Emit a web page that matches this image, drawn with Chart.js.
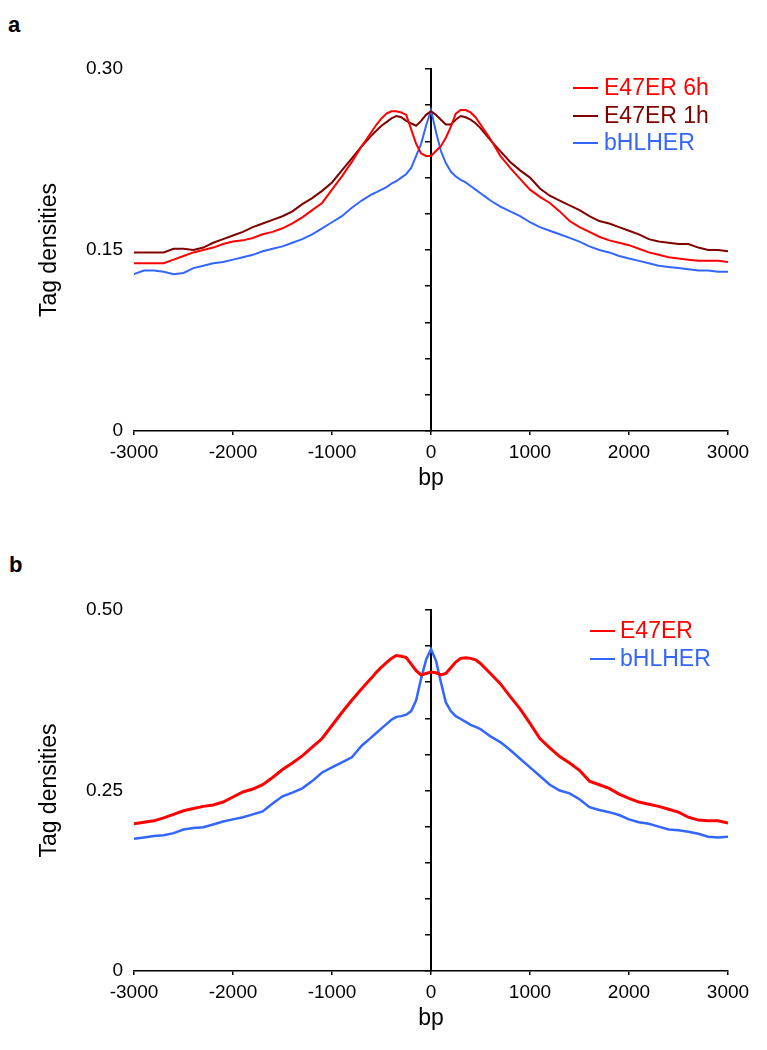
<!DOCTYPE html>
<html>
<head>
<meta charset="utf-8">
<script src="https://cdn.jsdelivr.net/npm/chart.js@4.4.1/dist/chart.umd.min.js"></script>
<style>
  body { margin: 0; background: #fff; }
  #page { position: relative; width: 767px; height: 1050px; font-family: 'Liberation Sans', Arial, sans-serif; }
  canvas { position: absolute; left: 0; }
  .panel { position: absolute; font-weight: bold; font-size: 22px; line-height: 22px; }
  .key-line { position: absolute; width: 25px; height: 2px; }
  .key-text { position: absolute; font-size: 23px; line-height: 27px; white-space: nowrap; }
</style>
</head>
<body>
<div id="page">
  <div class="panel" style="left:8px;top:14px">a</div>
  <canvas id="chartA" width="767" height="520" style="top:0"></canvas>
  <div class="panel" style="left:9px;top:554px">b</div>
  <canvas id="chartB" width="767" height="510" style="top:540px"></canvas>
</div>
<script>
// bp from the summit, finer steps near 0
const positions = [-3000, -2900, -2800, -2700, -2600, -2500, -2400, -2300, -2200, -2100, -2000, -1900, -1800, -1700, -1600, -1500, -1400, -1300, -1200, -1100, -1000, -900, -800, -700,
  -600, -550, -500, -450, -400, -350, -300, -250, -200, -150, -100, -50, 0, 50, 100, 150, 200, 250, 300, 350, 400, 450, 500, 550, 600,
  700, 800, 900, 1000, 1100, 1200, 1300, 1400, 1500, 1600, 1700, 1800, 1900, 2000, 2100, 2200, 2300, 2400, 2500, 2600, 2700, 2800, 2900, 3000];

// panel a
const e47er6h = [0.139, 0.139, 0.139, 0.139, 0.142, 0.145, 0.148, 0.150, 0.152, 0.155, 0.157, 0.158, 0.160, 0.163, 0.165, 0.168, 0.172, 0.177, 0.183, 0.189, 0.200, 0.211, 0.223, 0.236,
  0.248, 0.254, 0.259, 0.263, 0.265, 0.265, 0.264, 0.262, 0.250, 0.238, 0.230, 0.228, 0.228, 0.232, 0.236, 0.243, 0.252, 0.263, 0.266, 0.266, 0.264, 0.260, 0.254, 0.248, 0.242,
  0.228, 0.218, 0.209, 0.200, 0.194, 0.189, 0.182, 0.174, 0.169, 0.165, 0.161, 0.158, 0.156, 0.154, 0.151, 0.148, 0.146, 0.144, 0.143, 0.142, 0.141, 0.141, 0.141, 0.140];
const e47er1h = [0.148, 0.148, 0.148, 0.148, 0.151, 0.151, 0.150, 0.152, 0.156, 0.159, 0.162, 0.165, 0.169, 0.172, 0.175, 0.178, 0.182, 0.188, 0.193, 0.199, 0.206, 0.216, 0.226, 0.236,
  0.245, 0.249, 0.253, 0.256, 0.259, 0.261, 0.260, 0.257, 0.255, 0.253, 0.257, 0.262, 0.265, 0.262, 0.258, 0.254, 0.254, 0.258, 0.261, 0.260, 0.258, 0.255, 0.251, 0.246, 0.241,
  0.232, 0.223, 0.216, 0.210, 0.201, 0.195, 0.191, 0.187, 0.183, 0.178, 0.174, 0.172, 0.169, 0.166, 0.163, 0.159, 0.157, 0.156, 0.155, 0.155, 0.152, 0.150, 0.150, 0.149];
const bhlherA = [0.130, 0.133, 0.133, 0.132, 0.130, 0.131, 0.135, 0.137, 0.139, 0.140, 0.142, 0.144, 0.146, 0.149, 0.151, 0.153, 0.156, 0.159, 0.163, 0.168, 0.173, 0.178, 0.185, 0.191,
  0.196, 0.198, 0.200, 0.202, 0.205, 0.207, 0.210, 0.213, 0.218, 0.228, 0.238, 0.253, 0.266, 0.248, 0.232, 0.222, 0.215, 0.211, 0.208, 0.206, 0.203, 0.200, 0.197, 0.194, 0.191,
  0.186, 0.182, 0.178, 0.173, 0.169, 0.166, 0.163, 0.160, 0.157, 0.153, 0.150, 0.148, 0.145, 0.143, 0.141, 0.139, 0.137, 0.136, 0.135, 0.134, 0.133, 0.133, 0.132, 0.132];

// panel b
const e47er = [0.204, 0.206, 0.208, 0.212, 0.217, 0.222, 0.225, 0.228, 0.230, 0.234, 0.241, 0.248, 0.252, 0.258, 0.268, 0.279, 0.288, 0.298, 0.310, 0.322, 0.340, 0.358, 0.375, 0.391,
  0.406, 0.414, 0.421, 0.427, 0.433, 0.437, 0.436, 0.434, 0.425, 0.416, 0.410, 0.412, 0.414, 0.413, 0.410, 0.412, 0.420, 0.428, 0.433, 0.434, 0.433, 0.431, 0.426, 0.419, 0.412,
  0.398, 0.380, 0.363, 0.343, 0.322, 0.309, 0.297, 0.288, 0.278, 0.263, 0.258, 0.253, 0.245, 0.239, 0.234, 0.231, 0.228, 0.224, 0.220, 0.213, 0.209, 0.208, 0.208, 0.205];
const bhlherB = [0.183, 0.185, 0.187, 0.188, 0.191, 0.196, 0.198, 0.199, 0.203, 0.207, 0.210, 0.213, 0.217, 0.221, 0.232, 0.242, 0.247, 0.253, 0.263, 0.275, 0.282, 0.289, 0.296, 0.312,
  0.324, 0.330, 0.336, 0.342, 0.348, 0.352, 0.353, 0.355, 0.360, 0.375, 0.405, 0.431, 0.446, 0.430, 0.400, 0.372, 0.360, 0.353, 0.349, 0.345, 0.341, 0.338, 0.335, 0.330, 0.325,
  0.317, 0.306, 0.294, 0.282, 0.270, 0.258, 0.250, 0.246, 0.238, 0.227, 0.223, 0.220, 0.216, 0.210, 0.206, 0.204, 0.200, 0.196, 0.195, 0.193, 0.190, 0.186, 0.185, 0.186];

const xTicks = [-3000, -2000, -1000, 0, 1000, 2000, 3000];
const yLabelsA = [0, 0.15, 0.30];
const yLabelsB = [0, 0.25, 0.50];

const RED = '#ff0000';
const DARKRED = '#800000';
const BLUE = '#3366ff';

Chart.defaults.font.family = "'Liberation Sans', Arial, sans-serif";
Chart.defaults.color = '#000';

function points(values) {
  return positions.map((x, i) => ({ x: x, y: values[i] }));
}

function line(label, values, color, width) {
  return { label: label, data: points(values), borderColor: color, backgroundColor: color,
    borderWidth: width, pointRadius: 0, tension: 0, fill: false };
}

function makeChart(canvasId, datasets, yMax, yLabels, minorStep, xHeight, bpPad) {
  const ctx = document.getElementById(canvasId).getContext('2d');
  return new Chart(ctx, {
    type: 'line',
    data: { datasets: datasets },
    options: {
      responsive: false,
      animation: false,
      devicePixelRatio: 1,
      layout: { padding: { top: yMax === 0.3 ? 69 : 70, right: 39, left: 0, bottom: 0 } },
      plugins: { legend: { display: false }, tooltip: { enabled: false } },
      scales: {
        x: {
          type: 'linear', min: -3000, max: 3000,
          afterBuildTicks: s => { s.ticks = xTicks.map(v => ({ value: v })); },
          afterFit: s => { s.height = xHeight; s.paddingLeft = 0; s.paddingRight = 0; },
          grid: { drawOnChartArea: false, drawTicks: true, tickLength: 4, color: '#000', lineWidth: 1.5 },
          border: { display: true, color: '#000', width: 1.5 },
          ticks: { padding: 6, maxRotation: 0, autoSkip: false, font: { size: 19 }, callback: v => String(v) },
          title: { display: true, text: 'bp', font: { size: 23 }, padding: { top: 0, bottom: bpPad } }
        },
        y: {
          type: 'linear', position: 'left', min: 0, max: yMax,
          afterBuildTicks: s => { s.ticks = yLabels.map(v => ({ value: v })); },
          afterFit: s => { s.width = 134; s.paddingTop = 0; s.paddingBottom = 0; },
          grid: { display: false, drawTicks: false },
          border: { display: false },
          ticks: { padding: 11, font: { size: 19 }, callback: v => (v === 0 ? '0' : v.toFixed(2)) },
          title: { display: true, text: 'Tag densities', font: { size: 23 }, padding: { top: 36, bottom: 0 } }
        },
        // axis line crossing at bp = 0, minor ticks only
        yc: {
          type: 'linear', axis: 'y', position: { x: 0 }, min: 0, max: yMax,
          afterFit: s => { s.paddingTop = 0; s.paddingBottom = 0; },
          ticks: { display: false, stepSize: minorStep },
          grid: { drawOnChartArea: false, drawTicks: true, tickLength: 5, color: '#000', lineWidth: 1.5 },
          border: { display: true, color: '#000', width: 2 }
        }
      }
    }
  });
}

function addKey(items, left, textLeft) {
  const page = document.getElementById('page');
  items.forEach(item => {
    const bar = document.createElement('div');
    bar.className = 'key-line';
    bar.style.left = left + 'px';
    bar.style.top = (item.y - 1) + 'px';
    bar.style.background = item.color;
    const txt = document.createElement('div');
    txt.className = 'key-text';
    txt.style.left = textLeft + 'px';
    txt.style.top = (item.y - 14.5) + 'px';
    txt.style.color = item.color;
    txt.textContent = item.label;
    page.appendChild(bar);
    page.appendChild(txt);
  });
}

makeChart('chartA', [
  line('E47ER 6h', e47er6h, RED, 2),
  line('E47ER 1h', e47er1h, DARKRED, 2),
  line('bHLHER', bhlherA, BLUE, 2)
], 0.3, yLabelsA, 0.03, 89, 27.7);

makeChart('chartB', [
  line('E47ER', e47er, RED, 3),
  line('bHLHER', bhlherB, BLUE, 2.5)
], 0.5, yLabelsB, 0.05, 79, 17.7);

addKey([
  { label: 'E47ER 6h', color: RED, y: 88 },
  { label: 'E47ER 1h', color: DARKRED, y: 116 },
  { label: 'bHLHER', color: BLUE, y: 143 }
], 573, 604);

addKey([
  { label: 'E47ER', color: RED, y: 631 },
  { label: 'bHLHER', color: BLUE, y: 659 }
], 590, 620);
</script>
</body>
</html>
